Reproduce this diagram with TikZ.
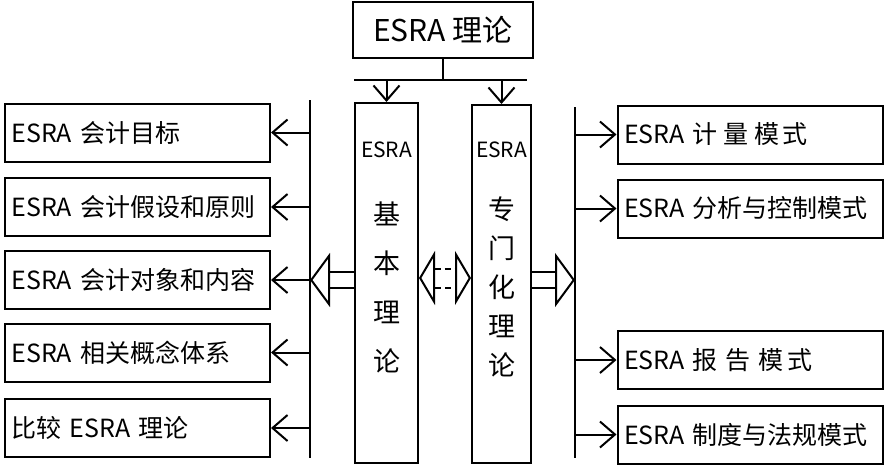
\documentclass[tikz,border=0pt]{standalone}
\usepackage{fontspec}
\setmainfont{Noto Sans CJK SC}
\usetikzlibrary{arrows.meta}

\begin{document}
\begin{tikzpicture}[x=1pt, y=-1pt,
        box/.style={draw, line width=2pt, rectangle, inner sep=0pt},
        item/.style={box, minimum width=265pt, minimum height=58pt,
            text width=252pt, align=left, font=\fontsize{25}{28}\selectfont},
        glyph/.style={font=\fontsize{27}{30}\selectfont, inner sep=0pt},
        bus/.style={line width=2pt},
        tip/.style={line width=2pt, -{Straight Barb[length=15pt, width=26pt]}},
        fat/.style={double, double distance=14pt, line width=2pt,
            -{Triangle[open, length=20pt, width=54pt]}}
    ]
    \useasboundingbox (0,0) rectangle (884,467);

    % top box
    \node[box, minimum width=180pt, minimum height=56pt,
        font=\fontsize{30}{32}\selectfont] (esra) at (443,30) {ESRA 理论};

    % the two middle columns
    \node[box, minimum width=63pt, minimum height=360pt] (basic) at (386.5,283) {};
    \node[box, minimum width=59pt, minimum height=358pt] (spec) at (501.5,284) {};
    \node[glyph, font=\fontsize{21}{24}\selectfont] (basicE) at (386.5,150) {ESRA};
    \node[glyph, font=\fontsize{21}{24}\selectfont] (specE) at (501.5,150) {ESRA};
    \foreach \c [count=\i] in {基,本,理,论}
        \node[glyph] (basic\i) at (386.5, {165+\i*49}) {\c};
    \foreach \c [count=\i] in {专,门,化,理,论}
        \node[glyph] (spec\i) at (501.5, {170+\i*39}) {\c};

    % fork under the top box
    \coordinate (hub) at (443,80);
    \coordinate (hubL) at (354,80);
    \coordinate (hubR) at (527,80);
    \draw[bus] (esra.south) -- (hub);
    \draw[bus] (hubL) -- (hubR);
    \draw[tip] (basic.north |- hub) -- (basic.north);
    \draw[tip] (spec.north |- hub) -- (spec.north);

    % left side
    \coordinate (lbt) at (310,100);
    \coordinate (lbb) at (310,458);
    \draw[bus] (lbt) -- (lbb);
    \foreach \y/\t [count=\i] in {132.5/ESRA 会计目标, 207/ESRA 会计假设和原则,
            280/ESRA 会计对象和内容, 352.5/ESRA 相关概念体系, 428/比较 ESRA 理论} {
        \node[item] (left\i) at (137.5,\y) {\t};
        % arrow from the bus
        \draw[tip] (left\i.east -| lbt) -- (left\i.east);
    }

    % right side
    \coordinate (rbt) at (575,107);
    \coordinate (rbb) at (575,458);
    \draw[bus] (rbt) -- (rbb);
    \foreach \y/\t [count=\i] in {134.5/ESRA 计\hspace{6pt}量\hspace{6pt}模\hspace{3pt}式,
            208.5/ESRA 分析与控制模式, 360/ESRA 报\hspace{8pt}告\hspace{8pt}模\hspace{4pt}式,
            434.5/ESRA 制度与法规模式} {
        \node[item] (right\i) at (750,\y) {\t};
        \draw[tip] (right\i.west -| rbt) -- (right\i.west);
    }

    % hollow arrows
    \draw[fat] (basic.west |- 0,280) -- (lbt |- 0,280);
    \draw[fat] (spec.east |- 0,280) -- (rbt |- 0,280);
    \draw[fat, dash pattern=on 6pt off 4pt, double distance=17pt,
        {Triangle[open, length=16pt, width=54pt]}-{Triangle[open, length=16pt, width=54pt]}]
        (basic.east |- 0,278) -- (spec.west |- 0,278);
\end{tikzpicture}
\end{document}
